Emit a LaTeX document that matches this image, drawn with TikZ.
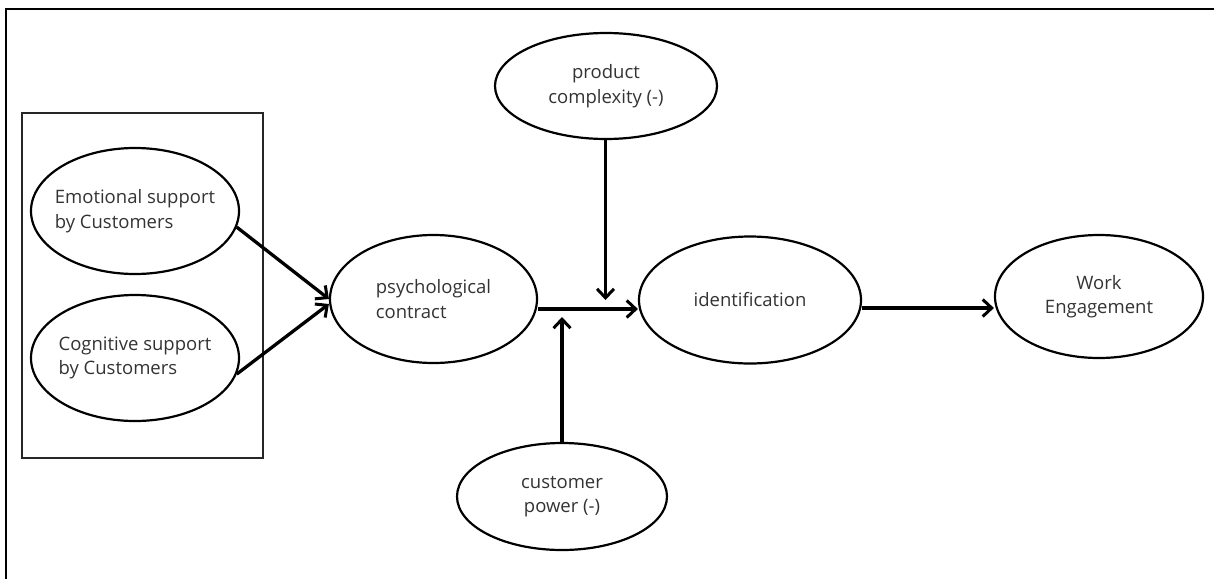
\documentclass[tikz,border=0pt]{standalone}
\usepackage{fontspec}
\setmainfont{Open Sans}
\usetikzlibrary{arrows.meta,shapes.geometric}
\begin{document}
\begin{tikzpicture}[x=1pt,y=-1pt,
  ell/.style={ellipse,draw=black,line width=2.2pt,inner sep=-30pt,text=black!80,
    font=\fontsize{18.5}{24.5}\selectfont},
  arr/.style={line width=3.3pt,-{Straight Barb[length=9pt,width=17pt,line width=3pt]}}]
\useasboundingbox (0,0) rectangle (1214,579);
% outer frame
\draw[line width=2.6pt] (1214,9) -- (6,9) -- (6,579);
% inner group box
\draw[line width=1.1pt,black!85] (22,113) rectangle (263,458);
% nodes
\node[ell,minimum width=208pt,minimum height=126pt,align=left] (emo) at (135,211) {Emotional support\\by Customers};
\node[ell,minimum width=208pt,minimum height=126pt,align=left] (cog) at (135,358) {Cognitive support\\by Customers};
\node[ell,minimum width=207pt,minimum height=128pt,align=left] (psy) at (433.5,299) {psychological\\contract};
\node[ell,minimum width=222pt,minimum height=106pt,align=center] (prod) at (606,86) {product\\complexity (-)};
\node[ell,minimum width=222pt,minimum height=127pt,align=center] (ident) at (750,300) {identification};
\node[ell,minimum width=210pt,minimum height=107pt,align=center] (cust) at (562,496.5) {customer\\power (-)};
\node[ell,minimum width=208pt,minimum height=123pt,align=center] (work) at (1099,296.5) {Work\\Engagement};
% connectors
\draw[arr] (emo.-9) -- (psy.west);
\draw[arr] (cog.-9) -- ([yshift=-5pt]psy.west);
\draw[arr] ([yshift=-10pt]psy.east) -- ([yshift=-9pt]ident.west);
\coordinate (pdown) at (605.5,300);
\coordinate (cup) at (562,317);
\draw[arr] (prod.south -| pdown) -- (pdown);
\draw[arr] (cust.north) -- (cup);
\draw[arr] ([yshift=-8pt]ident.east) -- ([yshift=-11.5pt]work.west);
\end{tikzpicture}
\end{document}
